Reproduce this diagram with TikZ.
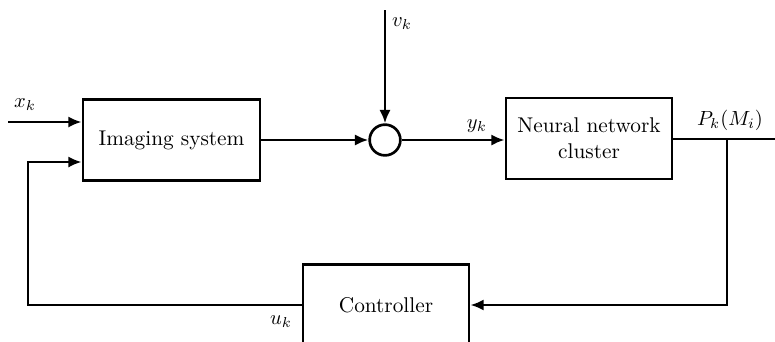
\documentclass[tikz,border=0pt]{standalone}
\usetikzlibrary{arrows.meta}
\begin{document}
\begin{tikzpicture}[x=0.488pt,y=-0.488pt,
  line width=1.3pt,
  font=\fontsize{10.4}{12.6}\selectfont,
  blockbox/.style={draw,line width=1.3pt,inner sep=0pt,align=center,minimum width=#1*0.488pt,minimum height=39.5pt},
  arr/.style={-{Latex[length=6.5pt,width=5.5pt]}},
  lbl/.style={inner sep=0pt}]
\useasboundingbox (0,0) rectangle (775,341);
\node[blockbox=177] (img) at (171.5,140) {Imaging system};
\node[draw,circle,minimum size=15pt,inner sep=0pt] (sum) at (385,140) {};
\node[blockbox=166] (nn) at (589,138.5) {Neural network\\cluster};
\node[blockbox=166] (ctrl) at (386,305) {Controller};
\coordinate (xin) at (8,122);
\coordinate (vin) at (385,10);
\coordinate (out) at (775,139);
\coordinate (br) at (727,139);
\coordinate (fb) at (28,305);
\draw[arr] (xin) -- (xin -| img.west);
\draw[arr] (img.east |- sum) -- (sum.west);
\draw[arr] (vin) -- (sum.north);
\draw[arr] (sum.east) -- (sum.east -| nn.west);
\draw (nn.east |- out) -- (out);
\draw[arr] (br) |- (ctrl.east);
\draw[arr] (ctrl.west) -- (fb) |- ([yshift=-22*0.488pt]img.west);
\node[lbl] (xk) at (25,105) {$x_k$};
\node[lbl] (vk) at (402,24) {$v_k$};
\node[lbl] (yk) at (477,126) {$y_k$};
\node[lbl] (pk) at (730,120) {$P_k(M_i)$};
\node[lbl] (uk) at (281,322) {$u_k$};
\end{tikzpicture}
\end{document}
